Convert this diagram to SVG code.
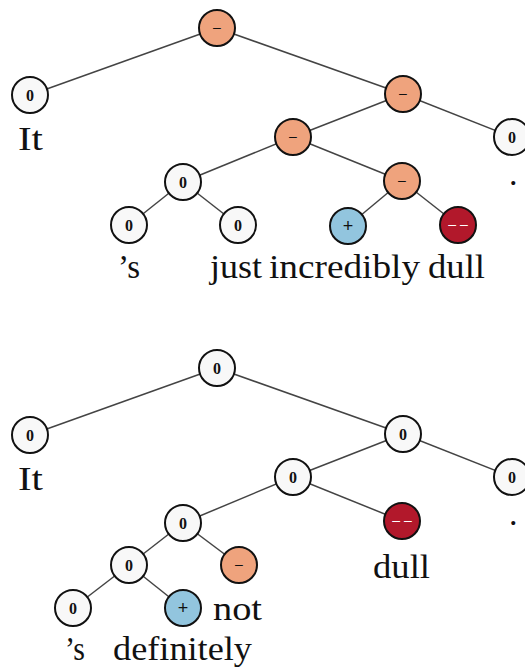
<svg xmlns="http://www.w3.org/2000/svg" width="525" height="668" viewBox="0 0 525 668">
<style>
.e{stroke:#444;stroke-width:1.5;fill:none}
.n{stroke:#111;stroke-width:2}
.z{fill:#f8f8f8}
.o{fill:#EFA37D}
.b{fill:#92C5DE}
.r{fill:#B2182B}
.l{font-family:"Liberation Serif","DejaVu Serif",serif;font-weight:bold;font-size:16px;text-anchor:middle;fill:#111}
.m{font-family:"Liberation Sans",sans-serif;font-size:14px;text-anchor:middle;fill:#111}
.p{font-family:"Liberation Sans",sans-serif;font-size:18px;text-anchor:middle;fill:#111}
.w{font-family:"Liberation Sans",sans-serif;font-size:14px;text-anchor:middle;fill:#fff}
.t{font-family:"Liberation Serif","DejaVu Serif",serif;font-size:34px;fill:#111}
</style>
<rect width="525" height="668" fill="#fff"/>
<g id="connectors" class="e">
<line x1="217" y1="28" x2="30" y2="95"/>
<line x1="217" y1="28" x2="403" y2="94"/>
<line x1="403" y1="94" x2="293" y2="137"/>
<line x1="403" y1="94" x2="512" y2="137"/>
<line x1="293" y1="137" x2="183" y2="182"/>
<line x1="293" y1="137" x2="402" y2="181"/>
<line x1="183" y1="182" x2="129" y2="225"/>
<line x1="183" y1="182" x2="238" y2="225"/>
<line x1="402" y1="181" x2="348" y2="226"/>
<line x1="402" y1="181" x2="458" y2="225"/>
<line x1="217" y1="368" x2="30" y2="435"/>
<line x1="217" y1="368" x2="403" y2="434"/>
<line x1="403" y1="434" x2="293" y2="477"/>
<line x1="403" y1="434" x2="512" y2="477"/>
<line x1="293" y1="477" x2="183" y2="523"/>
<line x1="293" y1="477" x2="402" y2="521"/>
<line x1="183" y1="523" x2="129" y2="565"/>
<line x1="183" y1="523" x2="239" y2="565"/>
<line x1="129" y1="565" x2="73" y2="608"/>
<line x1="129" y1="565" x2="183" y2="608"/>
</g>
<g id="t1-root"><circle class="n o" cx="217" cy="28" r="18"/><text class="m" x="217" y="32">–</text></g>
<g id="t1-it"><circle class="n z" cx="30" cy="95" r="18"/><text class="l" x="30" y="101">0</text><text class="t" x="18" y="150" textLength="25" lengthAdjust="spacingAndGlyphs">It</text></g>
<g id="t1-r"><circle class="n o" cx="403" cy="94" r="18"/><text class="m" x="403" y="98">–</text></g>
<g id="t1-dot"><circle class="n z" cx="512" cy="137" r="18"/><text class="l" x="512" y="143">0</text><text class="t" x="509" y="185">.</text></g>
<g id="t1-rl"><circle class="n o" cx="293" cy="137" r="18"/><text class="m" x="293" y="141">–</text></g>
<g id="t1-a"><circle class="n z" cx="183" cy="182" r="18"/><text class="l" x="183" y="188">0</text></g>
<g id="t1-b"><circle class="n o" cx="402" cy="181" r="18"/><text class="m" x="402" y="185">–</text></g>
<g id="t1-s"><circle class="n z" cx="129" cy="225" r="18"/><text class="l" x="129" y="231">0</text><text class="t" x="118" y="278" textLength="22" lengthAdjust="spacingAndGlyphs">’s</text></g>
<g id="t1-just"><circle class="n z" cx="238" cy="225" r="18"/><text class="l" x="238" y="231">0</text><text class="t" x="210" y="278" textLength="52" lengthAdjust="spacingAndGlyphs">just</text></g>
<g id="t1-incr"><circle class="n b" cx="348" cy="226" r="18"/><text class="p" x="348" y="232">+</text><text class="t" x="269" y="278" textLength="151" lengthAdjust="spacingAndGlyphs">incredibly</text></g>
<g id="t1-dull"><circle class="n r" cx="458" cy="225" r="18"/><text class="w" x="458" y="229">– –</text><text class="t" x="428" y="278" textLength="57" lengthAdjust="spacingAndGlyphs">dull</text></g>

<g id="t2-root"><circle class="n z" cx="217" cy="368" r="18"/><text class="l" x="217" y="374">0</text></g>
<g id="t2-it"><circle class="n z" cx="30" cy="435" r="18"/><text class="l" x="30" y="441">0</text><text class="t" x="18" y="490" textLength="25" lengthAdjust="spacingAndGlyphs">It</text></g>
<g id="t2-r"><circle class="n z" cx="403" cy="434" r="18"/><text class="l" x="403" y="440">0</text></g>
<g id="t2-dot"><circle class="n z" cx="512" cy="477" r="18"/><text class="l" x="512" y="483">0</text><text class="t" x="509" y="525">.</text></g>
<g id="t2-rl"><circle class="n z" cx="293" cy="477" r="18"/><text class="l" x="293" y="483">0</text></g>
<g id="t2-dull"><circle class="n r" cx="402" cy="521" r="18"/><text class="w" x="402" y="525">– –</text><text class="t" x="373" y="578" textLength="57" lengthAdjust="spacingAndGlyphs">dull</text></g>
<g id="t2-a"><circle class="n z" cx="183" cy="523" r="18"/><text class="l" x="183" y="529">0</text></g>
<g id="t2-b"><circle class="n z" cx="129" cy="565" r="18"/><text class="l" x="129" y="571">0</text></g>
<g id="t2-not"><circle class="n o" cx="239" cy="565" r="18"/><text class="m" x="239" y="569">–</text><text class="t" x="213" y="620" textLength="49" lengthAdjust="spacingAndGlyphs">not</text></g>
<g id="t2-s"><circle class="n z" cx="73" cy="608" r="18"/><text class="l" x="73" y="614">0</text><text class="t" x="65" y="660" textLength="20" lengthAdjust="spacingAndGlyphs">’s</text></g>
<g id="t2-def"><circle class="n b" cx="183" cy="608" r="18"/><text class="p" x="183" y="614">+</text><text class="t" x="113" y="660" textLength="139" lengthAdjust="spacingAndGlyphs">definitely</text></g>
</svg>
